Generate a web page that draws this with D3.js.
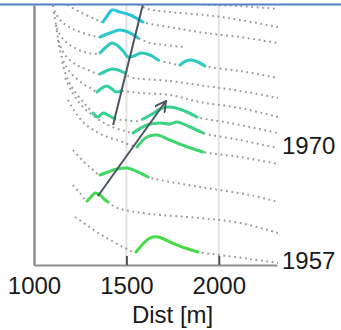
<!DOCTYPE html>
<html>
<head>
<meta charset="utf-8">
<script src="https://cdn.jsdelivr.net/npm/d3@7"></script>
<style>
  body { margin: 0; background: #fff; }
  text { font-family: "Liberation Sans", Arial, sans-serif; fill: #1a1a1a; }
</style>
</head>
<body>
<div id="chart"></div>
<script>
// profiles: [dist (m), relative height, highlighted?]
var p1957 = [[1222,48,0],[1292,39,0],[1357,31,0],[1422,24,0],[1492,17,0],
  [1552,13,1],[1584,20,1],[1628,27,1],[1671,28,1],[1736,23,1],[1817,17,1],[1887,13,1],
  [2007,10,0],[2169,6,0],[2320,2,0]];
var p1960 = [[1211,80,0],[1249,72,0],
  [1287,64,1],[1308,68,1],[1330,72,1],[1357,70,1],[1379,66,1],[1400,63,1],
  [1438,58,0],[1492,55,0],[1628,51,0],[1898,47,0],[2115,42,0],[2320,32,0]];
var p1964 = [[1211,115,0],[1260,105,0],[1314,96,0],
  [1357,90,1],[1400,93,1],[1449,96,1],[1503,97,1],[1563,93,1],[1617,88,1],
  [1682,85,0],[1898,78,0],[2169,70,0],[2320,63,0]];
var p1968 = [[1184,165,0],[1222,153,0],[1276,141,0],[1330,134,0],[1384,129,0],[1465,124,0],[1536,119,0],
  [1557,118,1],[1611,128,1],[1666,130,1],[1736,125,1],[1817,119,1],[1915,113,1],
  [2115,108,0],[2320,101,0]];
var p1970 = [[1168,187,0],[1206,173,0],[1260,159,0],[1330,148,0],[1411,139,0],[1492,134,0],
  [1536,132,1],[1611,140,1],[1682,142,1],[1736,141,1],[1774,143,1],[1844,138,1],[1915,132,1],
  [2115,125,0],[2320,117,0]];
var p1972 = [[1152,203,0],[1179,187,0],[1222,173,0],[1276,161,0],
  [1319,152,1],[1346,148,1],[1373,152,1],[1400,150,1],[1438,146,1],
  [1492,145,0],[1563,144,0],
  [1590,146,1],[1639,151,1],[1682,156,1],[1725,158,1],[1768,157,1],[1828,153,1],[1882,148,1],
  [2061,142,0],[2320,132,0]];
var p1974 = [[1130,225,0],[1152,207,0],[1195,193,0],[1260,182,0],[1314,176,0],
  [1341,173,1],[1368,177,1],[1395,179,1],[1422,176,1],[1444,173,1],[1471,174,1],
  [1574,172,0],[1736,170,0],[1898,163,0],[2115,157,0],[2320,148,0]];
var p1976 = [[1119,240,0],[1135,223,0],[1168,210,0],[1222,201,0],[1292,195,0],
  [1357,191,1],[1390,194,1],[1422,196,1],[1455,195,1],[1492,192,1],
  [1520,188,0],[1736,184,0],[1925,179,0],[2115,174,0],[2320,167,0]];
var p1978 = [[1108,253,0],[1124,237,0],[1162,225,0],[1222,217,0],[1292,212,0],
  [1357,212,1],[1390,218,1],[1422,222,1],[1455,219,1],[1482,214,1],[1509,208,1],
  [1541,209,1],[1579,212,1],[1628,210,1],[1671,205,1],
  [1736,202,0],
  [1790,200,1],[1823,204,1],[1850,205,1],[1887,203,1],[1925,199,1],
  [2115,194,0],[2320,187,0]];
var p1980 = [[1097,265,0],[1114,253,0],[1152,243,0],[1222,235,0],[1303,230,0],
  [1357,228,1],[1411,232,1],[1465,235,1],[1509,233,1],[1563,227,1],
  [1628,222,0],[1709,220,0],[1806,218,0]];
var p1982 = [[1141,268,0],[1184,260,0],[1249,253,0],[1330,246,0],
  [1373,243,1],[1400,250,1],[1422,255,1],[1465,253,1],[1520,250,1],[1590,243,1],
  [1763,237,0],[1925,232,0],[2115,228,0],[2320,222,0]];
var p1984 = [[1492,270,0],[1601,257,0],[1736,253,0],[1925,250,0],[2115,245,0],[2320,238,0]];
var p1986 = [[1682,267,0],[1898,261,0],[2115,259,0],[2320,256,0]];

var years = [1957,1960,1964,1968,1970,1972,1974,1976,1978,1980,1982,1984,1986];
var profiles = [p1957,p1960,p1964,p1968,p1970,p1972,p1974,p1976,p1978,p1980,p1982,p1984,p1986];
var labelYears = [1957, 1970];
var xTicks = [1000, 1500, 2000];
var gridTicks = [1500, 2000];

// migration arrows [dist0, h0, dist1, h1]
var arrows = [[1428,140,1606,273,0],[1346,69,1714,164,1]];

var width = 341, height = 330;
var x = d3.scaleLinear().domain([1000, 2315]).range([34, 277]);
var y = d3.scaleLinear().domain([0, 260]).range([265, 5]);

var svg = d3.select("#chart").append("svg")
  .attr("width", width).attr("height", height);

svg.append("defs").append("clipPath").attr("id", "plotclip")
  .append("rect").attr("x", 34).attr("y", 5).attr("width", 290).attr("height", 260);

svg.append("defs").append("marker")
  .attr("id", "head").attr("viewBox", "0 0 10 10")
  .attr("refX", 9).attr("refY", 5)
  .attr("markerWidth", 6).attr("markerHeight", 6)
  .attr("markerUnits", "strokeWidth")
  .attr("orient", "auto")
  .append("path").attr("d", "M0,0L9,5L0,10")
  .attr("fill", "none").attr("stroke", "#4b5563").attr("stroke-width", 1.6);

// grid
svg.selectAll(".grid").data(gridTicks).enter().append("line")
  .attr("x1", function(d){ return x(d); }).attr("x2", function(d){ return x(d); })
  .attr("y1", y(260)).attr("y2", y(0))
  .attr("stroke", "#e3e3e3").attr("stroke-width", 2);

var plot = svg.append("g").attr("clip-path", "url(#plotclip)");

var line = d3.line()
  .x(function(d){ return x(d[0]); })
  .y(function(d){ return y(d[1]); })
  .curve(d3.curveCatmullRom);

var color = d3.interpolateRgb("#48dc44", "#27c6dc");

// dotted profiles
plot.selectAll(".prof").data(profiles).enter().append("path")
  .attr("d", line)
  .attr("fill", "none")
  .attr("stroke", "#9a9a9a")
  .attr("stroke-width", 2)
  .attr("stroke-dasharray", "1.8,3.6");

// highlighted runs
profiles.forEach(function(p, i) {
  var runs = [], cur = [];
  p.forEach(function(pt) {
    if (pt[2]) { cur.push(pt); }
    else { if (cur.length > 1) runs.push(cur); cur = []; }
  });
  if (cur.length > 1) runs.push(cur);
  plot.selectAll(".run" + i).data(runs).enter().append("path")
    .attr("d", line)
    .attr("fill", "none")
    .attr("stroke", color(Math.min(i / 10, 1)))
    .attr("stroke-width", 3)
    .attr("stroke-linecap", "round")
    .attr("stroke-linejoin", "round");
});

// arrows
plot.selectAll(".arrow").data(arrows).enter().append("line")
  .attr("x1", function(d){ return x(d[0]); }).attr("y1", function(d){ return y(d[1]); })
  .attr("x2", function(d){ return x(d[2]); }).attr("y2", function(d){ return y(d[3]); })
  .attr("stroke", "#4b5563").attr("stroke-width", 2)
  .attr("marker-end", function(d){ return d[4] ? "url(#head)" : null; });

// axes
var xAxis = svg.append("g").attr("transform", "translate(0," + y(0) + ")")
  .call(d3.axisBottom(x).tickValues(xTicks).tickSizeInner(-9).tickSizeOuter(0).tickFormat(d3.format("d")));
xAxis.select(".domain").attr("stroke", "#8e8e8e").attr("stroke-width", 2);
xAxis.selectAll(".tick line").attr("stroke", "#505050").attr("stroke-width", 2)
  .filter(function(d){ return d == 1000; }).remove();
xAxis.selectAll(".tick text").attr("y", 28.5).attr("dy", 0)
  .style("font-size", "24px").style("font-family", "'Liberation Sans', Arial, sans-serif").attr("fill", "#1a1a1a");

var yAxis = svg.append("g").attr("transform", "translate(" + x(1000) + ",0)")
  .call(d3.axisLeft(y).tickValues([]).tickSizeOuter(0));
yAxis.select(".domain").attr("stroke", "#8e8e8e").attr("stroke-width", 2.5);

svg.append("text")
  .attr("x", x(1750)).attr("y", 323)
  .attr("text-anchor", "middle")
  .style("font-size", "24px")
  .text("Dist [m]");

// year labels at profile ends
svg.selectAll(".yr").data(labelYears).enter().append("text")
  .attr("x", x(2315) + 5)
  .attr("y", function(d){
    var p = profiles[years.indexOf(d)];
    return y(p[p.length - 1][1]) + 6;
  })
  .style("font-size", "24px")
  .text(function(d){ return d; });

// top frame line
svg.append("line").attr("x1", 0).attr("x2", width).attr("y1", 4.5).attr("y2", 4.5)
  .attr("stroke", "#4f81bd").attr("stroke-width", 2);
</script>
</body>
</html>
